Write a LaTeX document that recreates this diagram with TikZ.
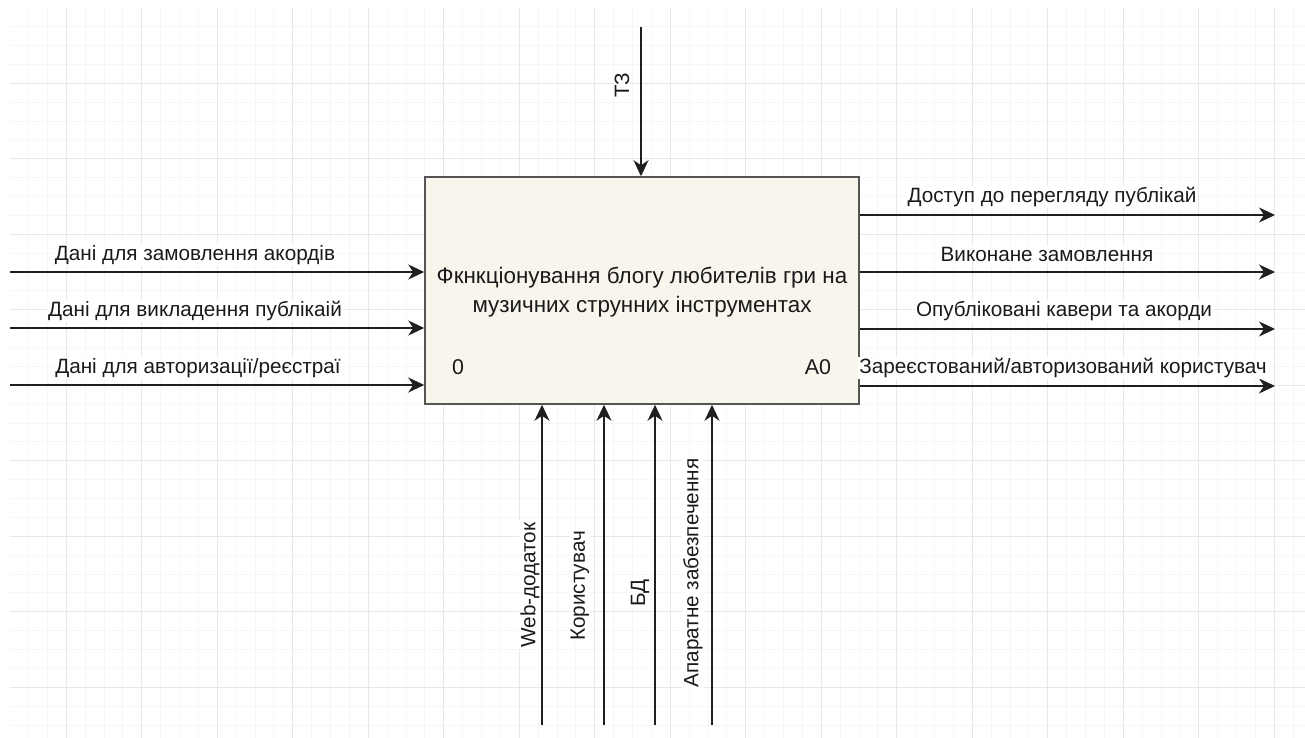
\documentclass[tikz,border=0pt]{standalone}
\usepackage{fontspec}
\setmainfont{Liberation Sans}
\usetikzlibrary{arrows.meta}
\definecolor{boxfill}{HTML}{F8F5EC}
\definecolor{boxline}{HTML}{555555}
\definecolor{gmajor}{HTML}{E8E8E8}
\definecolor{gminor}{HTML}{F6F6F6}
\definecolor{txt}{HTML}{1A1A1A}
\tikzset{
  flow/.style={draw=black!88, line width=1.4pt, -{Stealth[length=16pt,width=15pt,inset=5pt]}},
  lbl/.style={fill=white, text=txt, inner sep=1pt, font=\fontsize{20.7}{24}\selectfont},
  vlbl/.style={lbl, rotate=90},
  func/.style={draw=boxline, fill=boxfill, line width=1.5pt, minimum width=434pt, minimum height=227pt, inner sep=0pt},
}
\begin{document}
\begin{tikzpicture}[x=1pt,y=-1pt]
\useasboundingbox (0,0) rectangle (1305,738);
\fill[white] (0,0) rectangle (1305,738);
% grid
\begin{scope}
\clip (10,9) rectangle (1305,738);
\foreach \i in {-3,...,65} {
  \draw[gminor, line width=1pt] ({66.3+18.875*\i},0) -- ({66.3+18.875*\i},738);
  \draw[gminor, line width=1pt] (0,{83.3+18.875*\i}) -- (1305,{83.3+18.875*\i});
}
\foreach \i in {-1,...,16} {
  \draw[gmajor, line width=1.2pt] ({66.3+75.5*\i},0) -- ({66.3+75.5*\i},738);
  \draw[gmajor, line width=1.2pt] (0,{83.3+75.5*\i}) -- (1305,{83.3+75.5*\i});
}
\end{scope}

% function box
\node[func] (box) at (642,290.5) {};
\node[text=txt, align=center, font=\fontsize{22.4}{29}\selectfont] (title) at (642,292.5)
  {Фкнкціонування блогу любителів гри на\\музичних струнних інструментах};
\node[text=txt, font=\fontsize{21.4}{24}\selectfont] (num) at (458,367) {0};
\node[text=txt, font=\fontsize{21.4}{24}\selectfont] (aid) at (818,367) {A0};

% inputs
\coordinate (in1) at (10,272);
\coordinate (in2) at (10,328);
\coordinate (in3) at (10,385);
\draw[flow] (in1) -- (in1 -| box.west);
\draw[flow] (in2) -- (in2 -| box.west);
\draw[flow] (in3) -- (in3 -| box.west);
\node[lbl] (lin1) at (195,255) {Дані для замовлення акордів};
\node[lbl] (lin2) at (195,311) {Дані для викладення публікаій};
\node[lbl] (lin3) at (198,368) {Дані для авторизації/реєстраї};

% outputs
\coordinate (out1) at (1275,215);
\coordinate (out2) at (1275,272);
\coordinate (out3) at (1275,329);
\coordinate (out4) at (1275,386);
\draw[flow] (out1 -| box.east) -- (out1);
\draw[flow] (out2 -| box.east) -- (out2);
\draw[flow] (out3 -| box.east) -- (out3);
\draw[flow] (out4 -| box.east) -- (out4);
\node[lbl] (lout1) at (1052,197) {Доступ до перегляду публікай};
\node[lbl] (lout2) at (1047,254) {Виконане замовлення};
\node[lbl] (lout3) at (1064,311) {Опубліковані кавери та акорди};
\node[lbl] (lout4) at (1063,368) {Зареєстований/авторизований користувач};

% control
\node[vlbl] (lctrl) at (622,85) {ТЗ};
\coordinate (ctrl) at (641,27);
\draw[flow] (ctrl) -- (ctrl |- box.north);

% mechanisms (labels first, so the arrows stay unbroken)
\node[vlbl] (lm1) at (530,585) {Web-додаток};
\node[vlbl] (lm2) at (580,586) {Користувач};
\node[vlbl] (lm3) at (640,593) {БД};
\node[vlbl] (lm4) at (693,573) {Апаратне забезпечення};
\coordinate (m1) at (542,725);
\coordinate (m2) at (604,725);
\coordinate (m3) at (655,725);
\coordinate (m4) at (712,725);
\draw[flow] (m1) -- (m1 |- box.south);
\draw[flow] (m2) -- (m2 |- box.south);
\draw[flow] (m3) -- (m3 |- box.south);
\draw[flow] (m4) -- (m4 |- box.south);
\end{tikzpicture}
\end{document}
